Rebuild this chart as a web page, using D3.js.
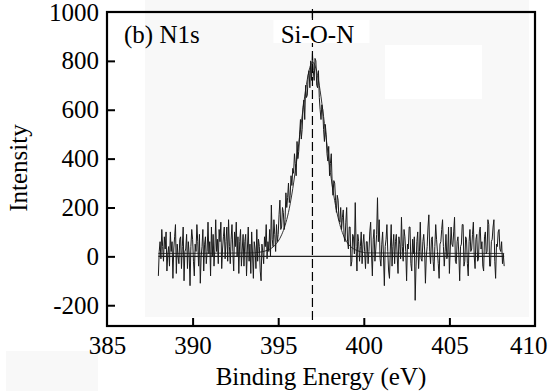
<!DOCTYPE html>
<html>
<head>
<meta charset="utf-8">
<script src="https://cdn.jsdelivr.net/npm/d3@7"></script>
<style>
  html, body { margin: 0; padding: 0; background: #ffffff; }
  svg { display: block; }
  text { font-family: "Liberation Serif", "Times New Roman", serif; fill: #000; }
</style>
</head>
<body>
<svg id="chart" width="548" height="391"></svg>
<script>
// ---- data ----
const xStart = 388.0;
const xStep = 0.05;
const intensity = [
  -80, 20, 60, -10, 110, 40, -20, 80, 30, 100, -60, 10, 40, -40, 100, 20, 60, -90, 30, 80,
  130, -70, 50, 0, -30, 70, 80, -50, 40, 120, -100, 20, 30, 90, -50, 60, 10, -120, 40, 110,
  70, -20, -80, 50, 20, 130, 60, -40, 90, -110, 0, 40, 110, -60, 50, 80, -30, 20, 140, 10,
  60, -80, 120, 0, 90, -40, 30, 150, 20, 70, -30, 110, 60, 140, -50, 30, 80, 120, -10, 60,
  120, -20, 150, 40, -30, 70, 130, 20, -60, 100, 40, 140, 0, 80, -70, 60, 110, -40, 30, 90,
  -40, 60, 90, -80, 30, 120, -20, 50, -70, 100, 10, -90, 60, 30, -50, 110, -20, 70, 40, -60,
  -100, 50, 20, -30, 80, 40, 130, -10, 60, 20, 110, 0, 210, 70, 40, 150, 90, 20, 130, 60,
  90, 170, 230, 110, 120, 200, 180, 110, 150, 260, 200, 240, 300, 220, 250, 330, 290, 360, 340, 420,
  380, 330, 470, 400, 430, 500, 560, 480, 520, 610, 640, 560, 700, 650, 660, 740, 760, 690, 800, 720,
  830, 760, 720, 810, 800, 700, 690, 760, 650, 600, 560, 620, 600, 520, 470, 540, 500, 420, 390, 450,
  330, 380, 420, 300, 250, 310, 300, 230, 180, 250, 230, 150, 140, 200, 110, 160, 190, 80, 60, 140,
  200, 60, 30, 120, 120, -40, -20, 90, 80, 10, 220, 40, -60, 90, 60, -20, 40, 100, -30, 50,
  90, 20, -50, 60, 60, -30, 20, 100, 140, 10, -80, 70, 110, -20, 30, 90, 240, 60, 150, -10,
  -40, 50, 100, 0, -120, 40, 70, 130, 20, -60, -90, 30, 130, -40, 40, 90, -30, 60, 90, 0,
  -70, 80, 50, -10, 160, 40, -20, 110, 80, 20, -100, 50, 30, 120, 120, -30, -60, 70, 10, 80,
  -180, -40, 60, 100, -50, 20, 140, -10, -20, 60, 90, 30, -110, 0, 40, 120, 170, 20, -30, 70,
  80, -20, -60, 40, 130, 70, 20, -30, -90, 50, 60, 110, 150, 40, -40, 20, 90, -10, 10, 120,
  -70, 30, 120, 50, 40, 100, 160, -20, -30, 60, 80, 10, -100, 40, 50, 130, 130, -40, -20, 80,
  70, -30, -80, 60, 110, 20, 30, 90, 140, 0, -50, 70, 90, -20, -10, 100, 120, 30, 60, -40,
  -60, 80, 100, 10, 20, 150, 130, -40, -40, 60, 70, 120, 150, -20, -90, 50, 40, 100, 110, 30,
  20, 60, -30, 10, -40
];
const fitEnergy = [388.0, 393.6, 393.8, 394.0, 394.2, 394.4, 394.6, 394.8, 395.0, 395.2, 395.4, 395.6, 395.8,
  396.0, 396.2, 396.4, 396.6, 396.8, 397.0, 397.2, 397.4, 397.6, 397.8, 398.0, 398.2, 398.4, 398.6,
  398.8, 399.0, 399.2, 399.4, 399.6, 399.8, 400.0, 400.2, 408.2];
const fitValue = [12, 14, 16, 18, 21, 26, 33, 45, 62, 88, 126, 180, 255,
  350, 460, 575, 680, 760, 795, 770, 700, 600, 485, 370, 270, 190, 130,
  88, 60, 42, 31, 24, 19, 16, 14, 12];
const baselineEnergy = [388.0, 408.2];
const baselineValue = [0, 0];
const peakPosition = 397.0;
const peakLabel = "Si-O-N";
const panelLabel = "(b) N1s";
const xTicks = [385, 390, 395, 400, 405, 410];
const yTicks = [-200, 0, 200, 400, 600, 800, 1000];
const xTitle = "Binding Energy (eV)";
const yTitle = "Intensity";

// ---- layout ----
const svg = d3.select("#chart");
const pLeft = 107, pRight = 535, pTop = 12, pBottom = 326;
const x = d3.scaleLinear().domain([385, 410]).range([pLeft, pRight]);
const y = d3.scaleLinear().domain([-285, 1000]).range([pBottom, pTop]);

// faint scan background patches
svg.append("rect").attr("x", 145).attr("y", 0).attr("width", 384).attr("height", 317).attr("fill", "#f8f8f8");
svg.append("rect").attr("x", 6).attr("y", 351).attr("width", 92).attr("height", 40).attr("fill", "#f8f8f8");
svg.append("rect").attr("x", 385).attr("y", 45).attr("width", 97).attr("height", 54).attr("fill", "#ffffff");

const spectrum = intensity.map((v, i) => [xStart + i * xStep, v]);
const line = d3.line().x(d => x(d[0])).y(d => y(d[1]));

// zero line
svg.append("path")
  .datum(baselineEnergy.map((e, i) => [e, baselineValue[i]]))
  .attr("d", line).attr("fill", "none").attr("stroke", "#222").attr("stroke-width", 1.2);

// fitted curve
svg.append("path")
  .datum(fitEnergy.map((e, i) => [e, fitValue[i]]))
  .attr("d", d3.line().curve(d3.curveMonotoneX).x(d => x(d[0])).y(d => y(d[1])))
  .attr("fill", "none").attr("stroke", "#333").attr("stroke-width", 1);

// raw spectrum
svg.append("path")
  .datum(spectrum)
  .attr("d", line).attr("fill", "none").attr("stroke", "#1a1a1a").attr("stroke-width", 1);

// dashed peak marker
svg.append("line")
  .attr("x1", x(peakPosition)).attr("x2", x(peakPosition))
  .attr("y1", pTop).attr("y2", pBottom - 5)
  .attr("stroke", "#000").attr("stroke-width", 1.2).attr("stroke-dasharray", "9,4");
svg.append("line")
  .attr("x1", x(peakPosition)).attr("x2", x(peakPosition))
  .attr("y1", pTop - 3).attr("y2", pTop + 6)
  .attr("stroke", "#000").attr("stroke-width", 1.2);

// peak label with white box
svg.append("rect").attr("x", x(peakPosition) - 39).attr("y", 20).attr("width", 96).attr("height", 23).attr("fill", "#ffffff");
svg.append("text").attr("x", x(peakPosition) + 5).attr("y", 43)
  .attr("text-anchor", "middle").attr("font-size", 25).text(peakLabel);

// panel label
svg.append("text").attr("x", 124).attr("y", 43).attr("font-size", 25).text(panelLabel);

// axes
const fmt = d => String(d);
const xAxis = d3.axisBottom(x).tickValues(xTicks).tickSizeInner(-8).tickSizeOuter(0).tickFormat(fmt).tickPadding(10);
const yAxis = d3.axisLeft(y).tickValues(yTicks).tickSizeInner(-8).tickSizeOuter(0).tickFormat(fmt).tickPadding(8);

const gx = svg.append("g").attr("transform", `translate(0,${pBottom})`).call(xAxis);
const gy = svg.append("g").attr("transform", `translate(${pLeft},0)`).call(yAxis);
[gx, gy].forEach(g => {
  g.attr("font-family", null).attr("font-size", null);
  g.select(".domain").remove();
  g.selectAll(".tick line").attr("stroke", "#000").attr("stroke-width", 2);
  g.selectAll(".tick text").style("font-family", "'Liberation Serif', serif").style("font-size", "25px").attr("fill", "#000");
});
gx.selectAll(".tick line").filter(d => d === 385 || d === 410).remove();
gx.selectAll(".tick text").filter(d => d === 410).attr("text-anchor", "end").attr("x", 12);
gy.selectAll(".tick line").filter(d => d === 1000).remove();

// frame
svg.append("rect").attr("x", pLeft).attr("y", pTop).attr("width", pRight - pLeft).attr("height", pBottom - pTop)
  .attr("fill", "none").attr("stroke", "#000").attr("stroke-width", 2.2);

// titles
svg.append("text").attr("x", 321).attr("y", 385).attr("text-anchor", "middle").attr("font-size", 25).text(xTitle);
svg.append("text").attr("transform", "translate(27,168) rotate(-90)").attr("text-anchor", "middle").attr("font-size", 25).text(yTitle);
</script>
</body>
</html>
